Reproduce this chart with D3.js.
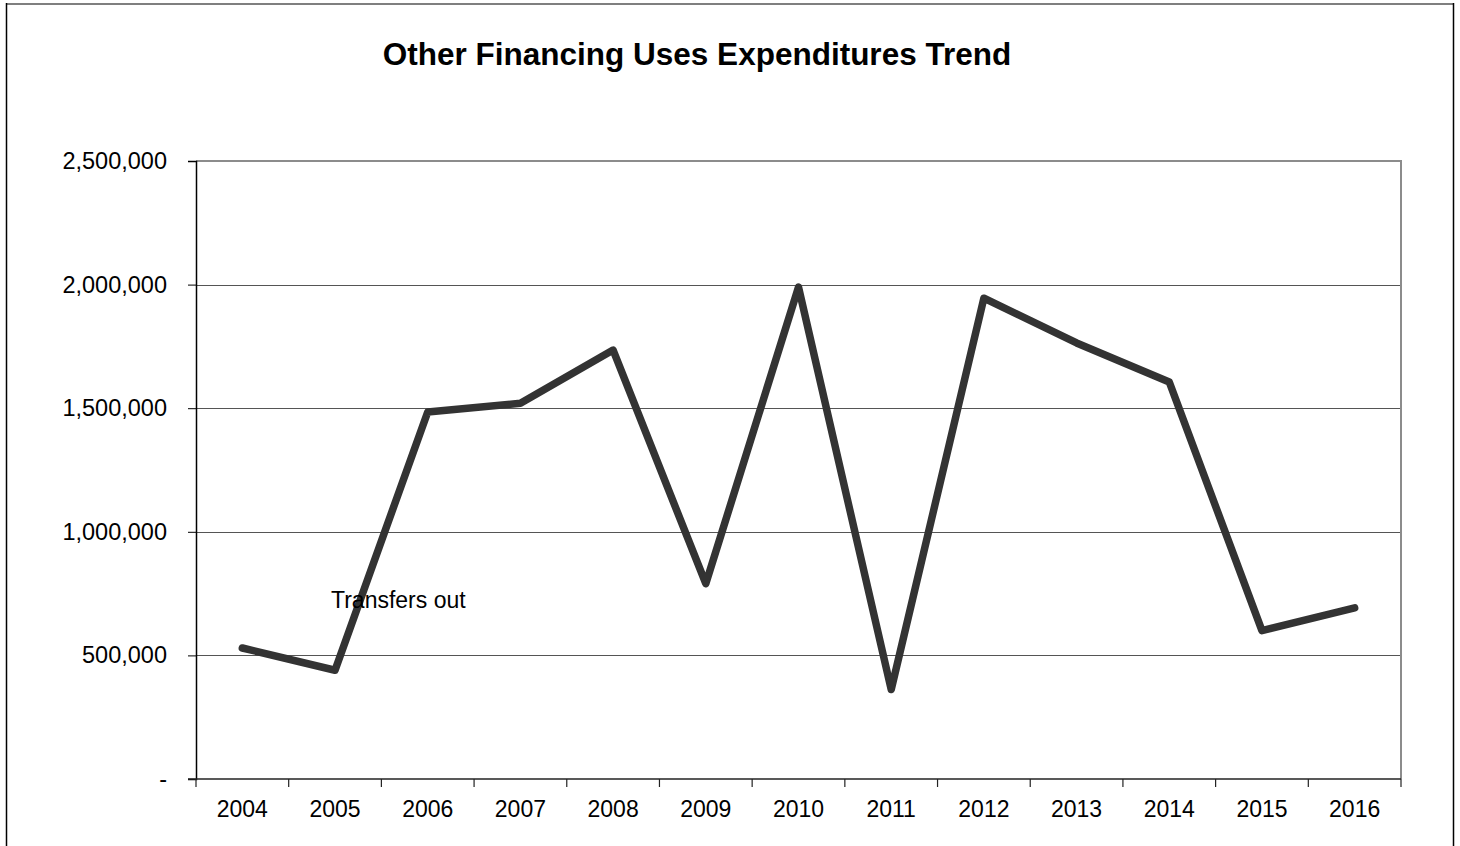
<!DOCTYPE html>
<html>
<head>
<meta charset="utf-8">
<script src="https://cdn.jsdelivr.net/npm/d3@7"></script>
<style>
  html, body { margin: 0; padding: 0; background: #fff; }
  svg { display: block; font-family: "Liberation Sans", Arial, sans-serif; }
</style>
</head>
<body>
<svg id="chart" width="1460" height="846"></svg>
<script>
const title = "Other Financing Uses Expenditures Trend";
const years = ["2004","2005","2006","2007","2008","2009","2010","2011","2012","2013","2014","2015","2016"];
const transfersOut = [530000, 440000, 1485000, 1520000, 1735000, 790000, 1990000, 362000, 1945000, 1764000, 1606000, 600000, 692000];
const seriesName = "Transfers out";
const yTicks = [0, 500000, 1000000, 1500000, 2000000, 2500000];
const yTickLabels = ["-", "500,000", "1,000,000", "1,500,000", "2,000,000", "2,500,000"];

const svg = d3.select("#chart");
const L = 196, R = 1401, T = 161, B = 779;

const x = d3.scaleBand().domain(years).range([L, R]).padding(0);
const y = d3.scaleLinear().domain([0, 2500000]).range([B, T]);

// outer chart frame
svg.append("line").attr("x1", 6).attr("x2", 1454).attr("y1", 4).attr("y2", 4)
  .attr("stroke", "#7f7f7f").attr("stroke-width", 2);
svg.append("line").attr("x1", 6.5).attr("x2", 6.5).attr("y1", 3).attr("y2", 846)
  .attr("stroke", "#000").attr("stroke-width", 1.5);
svg.append("line").attr("x1", 1453.5).attr("x2", 1453.5).attr("y1", 3).attr("y2", 846)
  .attr("stroke", "#000").attr("stroke-width", 1.5);

// title
svg.append("text").attr("x", 697).attr("y", 65).attr("text-anchor", "middle")
  .attr("font-size", "31.5px").attr("font-weight", "bold").attr("fill", "#000").text(title);

// gridlines
svg.append("g").selectAll("line").data(yTicks.filter(d => d > 0 && d < 2500000)).join("line")
  .attr("x1", L).attr("x2", R).attr("y1", d => Math.round(y(d)) + 0.5).attr("y2", d => Math.round(y(d)) + 0.5)
  .attr("stroke", "#555").attr("stroke-width", 1.2);

// plot area top & right border (gray)
svg.append("line").attr("x1", L).attr("x2", R + 1).attr("y1", y(2500000)).attr("y2", y(2500000))
  .attr("stroke", "#8c8c8c").attr("stroke-width", 2);
svg.append("line").attr("x1", R).attr("x2", R).attr("y1", T).attr("y2", B)
  .attr("stroke", "#8c8c8c").attr("stroke-width", 2);

// y axis
const yAxis = d3.axisLeft(y).tickValues(yTicks).tickSize(8).tickPadding(21)
  .tickFormat((d, i) => yTickLabels[i]);
const gy = svg.append("g").attr("transform", `translate(${L},0)`).call(yAxis);
gy.select(".domain").attr("stroke", "#000").attr("stroke-width", 1.5);
gy.selectAll(".tick line").attr("stroke", "#000");
gy.selectAll(".tick text").attr("font-size", "23.5px").attr("fill", "#000")
  .attr("font-family", "'Liberation Sans', Arial, sans-serif");

// x axis (ticks at band boundaries)
const gx = svg.append("g").attr("transform", `translate(0,${B})`);
gx.append("line").attr("x1", L - 8).attr("x2", R).attr("y1", 0).attr("y2", 0)
  .attr("stroke", "#222").attr("stroke-width", 1.5);
const bounds = years.map(d => x(d)).concat([R]);
gx.selectAll("line.tk").data(bounds).join("line").attr("class", "tk")
  .attr("x1", d => d).attr("x2", d => d).attr("y1", 0).attr("y2", 8)
  .attr("stroke", "#222").attr("stroke-width", 1.2);
gx.selectAll("text").data(years).join("text")
  .attr("x", d => x(d) + x.bandwidth() / 2).attr("y", 38)
  .attr("text-anchor", "middle").attr("font-size", "23px").attr("fill", "#000").text(d => d);

// line
const line = d3.line().x((d, i) => x(years[i]) + x.bandwidth() / 2).y(d => y(d));
svg.append("path").datum(transfersOut).attr("d", line)
  .attr("fill", "none").attr("stroke", "#333").attr("stroke-width", 7.5)
  .attr("stroke-linejoin", "round").attr("stroke-linecap", "round");

// series label
svg.append("text").attr("x", 331).attr("y", 608)
  .attr("font-size", "23px").attr("fill", "#000").attr("text-anchor", "start")
  .text(seriesName);
</script>
</body>
</html>
